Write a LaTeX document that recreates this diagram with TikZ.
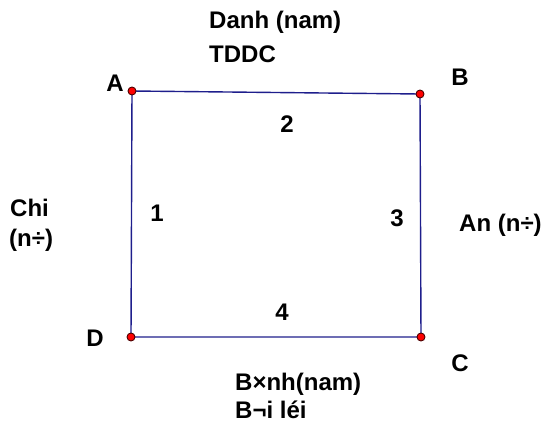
\documentclass[tikz,border=0pt]{standalone}
\usepackage{fontspec}
\setmainfont{Liberation Sans}
\begin{document}
\begin{tikzpicture}[x=1pt,y=-1pt,
  side/.style={draw=edgeblue,line width=1.4pt},
  vertex/.style={circle,fill=red,draw=black!70!red,line width=0.9pt,inner sep=0pt,minimum size=8pt},
  txt/.style={font=\bfseries\fontsize{24}{28}\selectfont,inner sep=0pt},
  lbl/.style={txt,anchor=base west},
  num/.style={txt}]
\definecolor{edgeblue}{RGB}{30,30,140}
\useasboundingbox (0,0) rectangle (557,432);
% corners of the quadrilateral
\coordinate (pA) at (132,91);
\coordinate (pB) at (420,94);
\coordinate (pC) at (421,337);
\coordinate (pD) at (131,337);
% sides
\draw[side] (pA) -- (pB) -- (pC) -- (pD) -- cycle;
% vertex dots
\node[vertex] (vA) at (pA) {};
\node[vertex] (vB) at (pB) {};
\node[vertex] (vC) at (pC) {};
\node[vertex] (vD) at (pD) {};
% vertex letters
\node[num] (lA) at (115,83) {A};
\node[num] (lB) at (460,77) {B};
\node[num] (lC) at (460,363) {C};
\node[num] (lD) at (95,338) {D};
% side numbers
\node[num] (n2) at (287,124) {2};
\node[num] (n1) at (157,213) {1};
\node[num] (n3) at (397,218) {3};
\node[num] (n4) at (282,312) {4};
% names
\node[lbl] (t1) at (209,28) {Danh (nam)};
\node[lbl] (t2) at (209,62) {TDDC};
\node[lbl] (l1) at (10,216) {Chi};
\node[lbl] (l2) at (9,246) {(n÷)};
\node[lbl] (r1) at (459,231) {An (n÷)};
\node[lbl] (b1) at (235,390) {B×nh(nam)};
\node[lbl] (b2) at (235,418) {B¬i léi};
\end{tikzpicture}
\end{document}
